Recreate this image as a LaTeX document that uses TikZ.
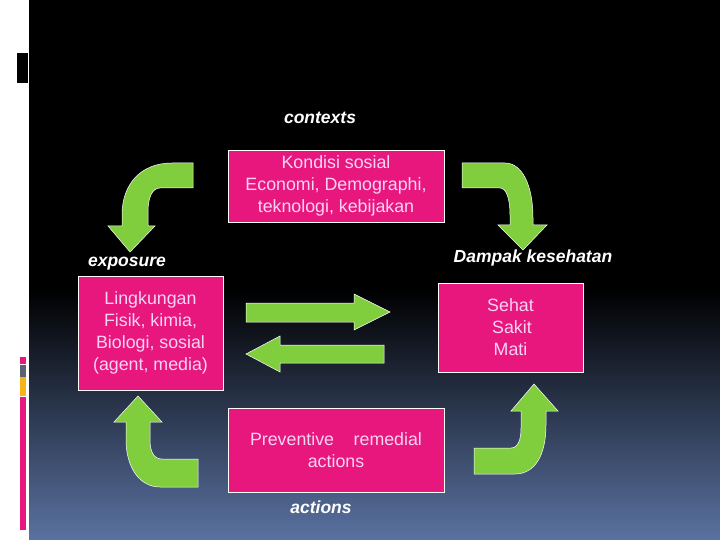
\documentclass[tikz,border=0pt]{standalone}
\usepackage{fontspec}
\setmainfont{Liberation Sans}
\definecolor{boxpink}{RGB}{231,23,126}
\definecolor{arrgreen}{RGB}{128,205,62}
\definecolor{bgblue}{RGB}{90,114,162}
\definecolor{txtpink}{RGB}{248,212,242}
\definecolor{bargray}{RGB}{92,98,112}
\definecolor{bargold}{RGB}{244,180,26}
\begin{document}
\begin{tikzpicture}[x=1pt,y=-1pt,
  box/.style={draw=white, line width=0.6pt, fill=boxpink, text=txtpink, align=center,
    font=\fontsize{17.8}{22}\selectfont, inner sep=0pt},
  lbl/.style={text=white, font=\fontsize{17.5}{20}\selectfont\bfseries\itshape},
  blockarrow/.style={fill=arrgreen, draw=white, line width=0.5pt}]
\useasboundingbox (0,0) rectangle (720,540);
% background
\fill[white] (0,0) rectangle (29,540);
\fill[black] (29,0) rectangle (720,290);
\shade[top color=black, bottom color=bgblue] (29,290) rectangle (720,540);
\fill[black] (17,53) rectangle (28,83);
\fill[boxpink] (20,357) rectangle (26,364);
\fill[bargray] (20,365) rectangle (26,377);
\fill[bargold] (20,377) rectangle (26,396);
\fill[boxpink] (20,397) rectangle (26,530);
% boxes
\node[box, minimum width=216pt, minimum height=72pt] (ctx) at (336,186)
  {Kondisi sosial\\ Economi, Demographi,\\ teknologi, kebijakan};
\node[box, minimum width=145pt, minimum height=114pt] (env) at (150.5,333)
  {Lingkungan\\ Fisik, kimia,\\ Biologi, sosial\\ (agent, media)};
\node[box, minimum width=145pt, minimum height=89pt] (hlth) at (510.5,327.5)
  {Sehat\\ \,Sakit\\ Mati};
\node[box, minimum width=216pt, minimum height=84pt] (act) at (336,450)
  {Preventive\hspace{1.1em}remedial\\ actions};
% labels
\node[lbl] (ctxlbl) at (320,118) {contexts};
\node[lbl] (explbl) at (127,264) {exposure};
\node[lbl] (hlthlbl) at (533,258) {Dampak kesehatan};
\node[lbl] (actlbl) at (321,507) {actions};
% curved arrows
\draw[blockarrow] (193,163) -- (172,163) .. controls (140,163) and (122,185) .. (122,215)
  -- (122,226) -- (108,226) -- (130,252) -- (155,226) -- (148,226) -- (148,212)
  .. controls (148,198) and (152,188) .. (160,188) -- (193,188) -- cycle;
\draw[blockarrow] (462,163) -- (505,163) .. controls (522,163) and (533,185) .. (533,218)
  -- (533,225) -- (547,225) -- (523,250) -- (498,225) -- (510,225) -- (510,215)
  .. controls (510,198) and (506,188) .. (500,188) -- (462,188) -- cycle;
\draw[blockarrow] (138,396) -- (162,422) -- (150,422) -- (150,440)
  .. controls (150,452) and (154,459) .. (162,459) -- (198,459) -- (198,487) -- (160,487)
  .. controls (138,487) and (126,465) .. (126,440) -- (126,422) -- (114,422) -- cycle;
\draw[blockarrow] (534,384) -- (558,411) -- (546,411) -- (546,425)
  .. controls (546,455) and (535,474) .. (515,474) -- (474,474) -- (474,448) -- (511,448)
  .. controls (518,448) and (521,440) .. (521,428) -- (521,411) -- (511,411) -- cycle;
% straight arrows
\draw[blockarrow] (246,303) -- (354,303) -- (354,294) -- (390,312) -- (354,330) -- (354,322) -- (246,322) -- cycle;
\draw[blockarrow] (384,345) -- (280,345) -- (280,336) -- (246,354) -- (280,372) -- (280,363) -- (384,363) -- cycle;
\end{tikzpicture}
\end{document}
